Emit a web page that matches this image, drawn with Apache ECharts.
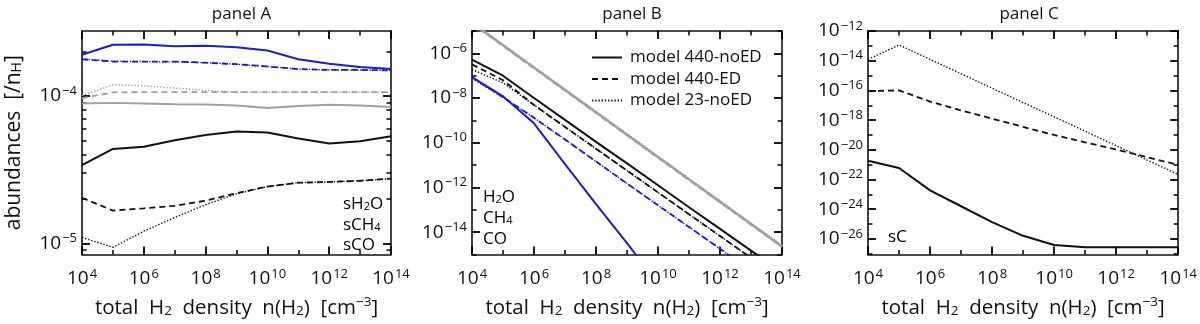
<!DOCTYPE html>
<html>
<head>
<meta charset="utf-8">
<script src="https://cdn.jsdelivr.net/npm/echarts@6/dist/echarts.min.js"></script>
<style>
  html, body { margin: 0; padding: 0; background: #fff; }
  #main { width: 1200px; height: 324px; }
</style>
</head>
<body>
<div id="main"></div>
<script>
// total H2 density n(H2) [cm^-3]
const density = [1e4, 1e5, 1e6, 1e7, 1e8, 1e9, 1e10, 1e11, 1e12, 1e13, 1e14];

// tick exponents
const xMajor = [4, 6, 8, 10, 12, 14];
const xMinor = [5, 7, 9, 11, 13];
const yMajorA = [-5, -4];
const yMinorA = [-5.046, -4.699, -4.523, -4.398, -4.301, -4.222, -4.155, -4.097, -4.046, -3.699];
const yMajorB = [-14, -12, -10, -8, -6];
const yMinorB = [-15, -13, -11, -9, -7, -5];
const yMajorC = [-26, -24, -22, -20, -18, -16, -14, -12];
const yMinorC = [-27, -25, -23, -21, -19, -17, -15, -13];

// panel A: ice abundances [/nH]
const sH2O_noED = [1.9e-4, 2.22e-4, 2.23e-4, 2.17e-4, 2.19e-4, 2.14e-4, 2.03e-4, 1.77e-4, 1.65e-4, 1.57e-4, 1.52e-4];
const sH2O_ED = [1.77e-4, 1.71e-4, 1.71e-4, 1.71e-4, 1.68e-4, 1.64e-4, 1.585e-4, 1.52e-4, 1.5e-4, 1.5e-4, 1.49e-4];
const sH2O_23 = [1.78e-4, 1.72e-4, 1.71e-4, 1.7e-4, 1.68e-4, 1.64e-4, 1.58e-4, 1.52e-4, 1.5e-4, 1.5e-4, 1.49e-4];
const sCH4_noED = [3.39e-5, 4.37e-5, 4.52e-5, 5.01e-5, 5.43e-5, 5.74e-5, 5.65e-5, 5.14e-5, 4.75e-5, 4.92e-5, 5.32e-5];
const sCH4_ED = [2.04e-5, 1.67e-5, 1.73e-5, 1.8e-5, 1.95e-5, 2.19e-5, 2.43e-5, 2.58e-5, 2.61e-5, 2.66e-5, 2.75e-5];
const sCH4_23 = [1.1e-5, 9.4e-6, 1.21e-5, 1.5e-5, 1.83e-5, 2.17e-5, 2.43e-5, 2.58e-5, 2.61e-5, 2.66e-5, 2.75e-5];
const sCO_noED = [8.88e-5, 8.97e-5, 8.88e-5, 8.79e-5, 8.74e-5, 8.61e-5, 8.28e-5, 8.53e-5, 8.7e-5, 8.61e-5, 8.41e-5];
const sCO_ED = [9.66e-5, 1.056e-4, 1.061e-4, 1.061e-4, 1.061e-4, 1.061e-4, 1.061e-4, 1.061e-4, 1.061e-4, 1.061e-4, 1.061e-4];
const sCO_23 = [1.005e-4, 1.19e-4, 1.17e-4, 1.13e-4, 1.09e-4, 1.06e-4, 1.061e-4, 1.061e-4, 1.061e-4, 1.061e-4, 1.061e-4];

// panel B: gas abundances [/nH]
const H2O_noED = [8.7e-8, 1.2e-8, 7.4e-10, 1.1e-11, 1.8e-13, 3.2e-15, 5e-17, null, null, null, null];
const H2O_ED = [8.5e-8, 1.1e-8, 1.3e-9, 1.4e-10, 1.45e-11, 1.5e-12, 1.6e-13, 1.7e-14, 1.8e-15, 1.9e-16, 2.0e-17];
const H2O_23 = [7.6e-8, 1.05e-8, 1.3e-9, 1.4e-10, 1.45e-11, 1.5e-12, 1.6e-13, 1.7e-14, 1.8e-15, 1.9e-16, 2.0e-17];
const CH4_noED = [5.2e-7, 1.0e-7, 1.0e-8, 1.05e-9, 1.1e-10, 1.2e-11, 1.25e-12, 1.3e-13, 1.4e-14, 1.5e-15, 1.6e-16];
const CH4_ED = [3.2e-7, 6.3e-8, 4.9e-9, 5.1e-10, 5.4e-11, 5.7e-12, 6.0e-13, 6.3e-14, 6.7e-15, 7.1e-16, 7.4e-17];
const CH4_23 = [1.9e-7, 4.8e-8, 4.9e-9, 5.1e-10, 5.4e-11, 5.7e-12, 6.0e-13, 6.3e-14, 6.7e-15, 7.1e-16, 7.4e-17];
const CO_noED = [2.3e-5, 2.3e-6, 2.3e-7, 2.3e-8, 2.3e-9, 2.3e-10, 2.3e-11, 2.3e-12, 2.3e-13, 2.3e-14, 2.3e-15];
const CO_ED = [2.2e-5, 2.2e-6, 2.2e-7, 2.2e-8, 2.2e-9, 2.2e-10, 2.2e-11, 2.2e-12, 2.2e-13, 2.2e-14, 2.2e-15];
const CO_23 = [2.4e-5, 2.4e-6, 2.4e-7, 2.4e-8, 2.4e-9, 2.4e-10, 2.4e-11, 2.4e-12, 2.4e-13, 2.4e-14, 2.4e-15];

// panel C: solid carbon sC [/nH]
const sC_noED = [1.82e-21, 6.0e-22, 1.86e-23, 1.58e-24, 1.35e-25, 1.62e-26, 3.9e-27, 2.75e-27, 2.75e-27, 2.75e-27, 2.75e-27];
const sC_ED = [8.9e-17, 1.0e-16, 1.78e-17, 4.5e-18, 1.26e-18, 3.5e-19, 1.0e-19, 3.2e-20, 1.05e-20, 3.2e-21, 9.5e-22];
const sC_23 = [1.2e-14, 1.15e-13, 1.23e-14, 1.32e-15, 1.41e-16, 1.51e-17, 1.66e-18, 1.78e-19, 1.9e-20, 2.04e-21, 2.19e-22];

const modelNames = ['model 440-noED', 'model 440-ED', 'model 23-noED'];

const FONT = 'Open Sans';
const INK = '#111';
const BLUE = '#1c1cd2';
const GREY = '#a0a0a0';

const grids = [
  { left: 82, top: 31, width: 309, height: 235 },
  { left: 472, top: 31, width: 310, height: 235 },
  { left: 868, top: 31, width: 312, height: 235 }
];

function pow10(v) {
  const e = Math.round(v);
  return '{b|10}{s|' + (e < 0 ? '\u2212' + (-e) : e) + '}';
}
const labelRich = {
  b: { fontSize: 19, fontFamily: FONT, color: INK },
  s: { fontSize: 13, fontFamily: FONT, color: INK, padding: [0, 0, 10, 1] }
};

const xTitle = '{n|total  H}{sub|2}{n|  density  n(H}{sub|2}{n|)  [cm}{sup|\u22123}{n|]}';
const titleRich = {
  n: { fontSize: 20.5, fontFamily: FONT, color: INK, padding: [0, 0, 5, 0] },
  sub: { fontSize: 13.5, fontFamily: FONT, color: INK },
  sup: { fontSize: 13.5, fontFamily: FONT, color: INK, padding: [0, 0, 17, 0] }
};
const yTitleRich = {
  n: { fontSize: 21, fontFamily: FONT, color: INK, padding: [0, 0, 5, 0] },
  sub: { fontSize: 14, fontFamily: FONT, color: INK }
};

const xAxis = [];
const yAxis = [];

const axisLineStyle = { color: INK, width: 1.6 };
const tickMajor = { show: true, inside: true, length: 8, lineStyle: { color: '#000', width: 1.8 } };
const tickMinor = { show: true, inside: true, length: 4.5, lineStyle: { color: '#000', width: 1.5 } };

function addAxes(gi, yMin, yMax, yMajor, yMinor, yName) {
  const xb = { type: 'value', gridIndex: gi, min: 4, max: 14, splitLine: { show: false } };
  xAxis.push(
    Object.assign({}, xb, {
      position: 'bottom',
      axisLine: { onZero: false, lineStyle: axisLineStyle },
      axisTick: Object.assign({ customValues: xMajor }, tickMajor),
      axisLabel: { customValues: xMajor, formatter: pow10, rich: labelRich, margin: 13 },
      name: xTitle, nameLocation: 'middle', nameGap: 41,
      nameTextStyle: { rich: titleRich }
    }),
    Object.assign({}, xb, { position: 'bottom', axisLine: { show: false }, axisLabel: { show: false },
      axisTick: Object.assign({ customValues: xMinor }, tickMinor) }),
    Object.assign({}, xb, { position: 'top', axisLine: { onZero: false, lineStyle: axisLineStyle }, axisLabel: { show: false },
      axisTick: Object.assign({ customValues: xMajor }, tickMajor) }),
    Object.assign({}, xb, { position: 'top', axisLine: { show: false }, axisLabel: { show: false },
      axisTick: Object.assign({ customValues: xMinor }, tickMinor) })
  );
  const yb = { type: 'value', gridIndex: gi, min: yMin, max: yMax, splitLine: { show: false } };
  const main = Object.assign({}, yb, {
    position: 'left',
    axisLine: { onZero: false, lineStyle: axisLineStyle },
    axisTick: Object.assign({ customValues: yMajor }, tickMajor),
    axisLabel: { customValues: yMajor, formatter: pow10, rich: labelRich, margin: 5 }
  });
  if (yName) {
    Object.assign(main, { name: yName, nameLocation: 'middle', nameGap: 52, nameTextStyle: { rich: yTitleRich } });
  }
  yAxis.push(
    main,
    Object.assign({}, yb, { position: 'left', axisLine: { show: false }, axisLabel: { show: false },
      axisTick: Object.assign({ customValues: yMinor }, tickMinor) }),
    Object.assign({}, yb, { position: 'right', axisLine: { onZero: false, lineStyle: axisLineStyle }, axisLabel: { show: false },
      axisTick: Object.assign({ customValues: yMajor }, tickMajor) }),
    Object.assign({}, yb, { position: 'right', axisLine: { show: false }, axisLabel: { show: false },
      axisTick: Object.assign({ customValues: yMinor }, tickMinor) })
  );
}

addAxes(0, -5.075, -3.56, yMajorA, yMinorA, '{n|abundances  [/n}{sub|H}{n|]}');
addAxes(1, -15, -5, yMajorB, yMinorB, null);
addAxes(2, -27.05, -12, yMajorC, yMinorC, null);

function toXY(values) {
  const out = [];
  values.forEach((v, i) => {
    if (v != null) out.push([Math.log10(density[i]), Math.log10(v)]);
  });
  return out;
}

const styles = {
  solid: { type: 'solid', width: 2 },
  dashed: { type: [6, 4], width: 1.8 },
  dotted: { type: [1.4, 1.8], width: 1.4 }
};

function line(gi, values, color, kind, name, width) {
  const ls = Object.assign({}, styles[kind], { color: color });
  if (width) ls.width = width;
  return {
    type: 'line', name: name || undefined,
    xAxisIndex: gi * 4, yAxisIndex: gi * 4,
    data: toXY(values), symbol: 'none', clip: true,
    lineStyle: ls, itemStyle: { color: color },
    silent: true
  };
}

const series = [
  // panel A
  line(0, sCO_noED, GREY, 'solid'),
  line(0, sCO_ED, GREY, 'dashed'),
  line(0, sCO_23, GREY, 'dotted'),
  line(0, sCH4_noED, INK, 'solid'),
  line(0, sCH4_ED, INK, 'dashed'),
  line(0, sCH4_23, INK, 'dotted'),
  line(0, sH2O_noED, BLUE, 'solid'),
  line(0, sH2O_ED, BLUE, 'dashed'),
  line(0, sH2O_23, BLUE, 'dotted'),
  // panel B
  line(1, CO_noED, GREY, 'solid', null, 2.4),
  line(1, CO_ED, GREY, 'dashed', null, 2.4),
  line(1, CO_23, GREY, 'dotted', null, 2.4),
  line(1, CH4_noED, INK, 'solid'),
  line(1, CH4_ED, INK, 'dashed'),
  line(1, CH4_23, INK, 'dotted'),
  line(1, H2O_noED, BLUE, 'solid'),
  line(1, H2O_ED, BLUE, 'dashed'),
  line(1, H2O_23, BLUE, 'dotted'),
  // panel C
  line(2, sC_noED, INK, 'solid'),
  line(2, sC_ED, INK, 'dashed'),
  line(2, sC_23, INK, 'dotted'),
  // legend entries (no data)
  line(1, [], INK, 'solid', modelNames[0]),
  line(1, [], INK, 'dashed', modelNames[1]),
  line(1, [], INK, 'dotted', modelNames[2])
];

const chart = echarts.init(document.getElementById('main'));

const titles = ['panel A', 'panel B', 'panel C'].map((t, i) => ({
  text: t,
  left: grids[i].left + grids[i].width / 2,
  textAlign: 'center',
  top: 1,
  textStyle: { fontSize: 17, fontWeight: 'normal', fontFamily: FONT, color: INK }
}));

const spRich = (color) => ({
  n: { fontSize: 17, fontFamily: FONT, color: color, padding: [0, 0, 4, 0] },
  sub: { fontSize: 11, fontFamily: FONT, color: color }
});

function spLabel(x, y, text, color) {
  return { type: 'text', left: x, top: y, style: { text: text, rich: spRich(color) } };
}

chart.setOption({
  animation: false,
  backgroundColor: '#fff',
  title: titles,
  grid: grids,
  xAxis: xAxis,
  yAxis: yAxis,
  legend: {
    data: modelNames,
    orient: 'vertical',
    left: 586, top: 44,
    itemWidth: 30, itemHeight: 14, itemGap: 4.5,
    selectedMode: false,
    itemStyle: { opacity: 0 },
    textStyle: { fontSize: 17, fontFamily: FONT, color: INK, padding: [0, 0, 0, 3] }
  },
  graphic: [
    spLabel(343, 196, '{n|sH}{sub|2}{n|O}', BLUE),
    spLabel(343, 217, '{n|sCH}{sub|4}', INK),
    spLabel(343, 237, '{n|sCO}', GREY),
    spLabel(483, 189, '{n|H}{sub|2}{n|O}', BLUE),
    spLabel(483, 210, '{n|CH}{sub|4}', INK),
    spLabel(483, 231, '{n|CO}', GREY),
    spLabel(888, 229, '{n|sC}', INK)
  ],
  series: series
});
</script>
</body>
</html>
